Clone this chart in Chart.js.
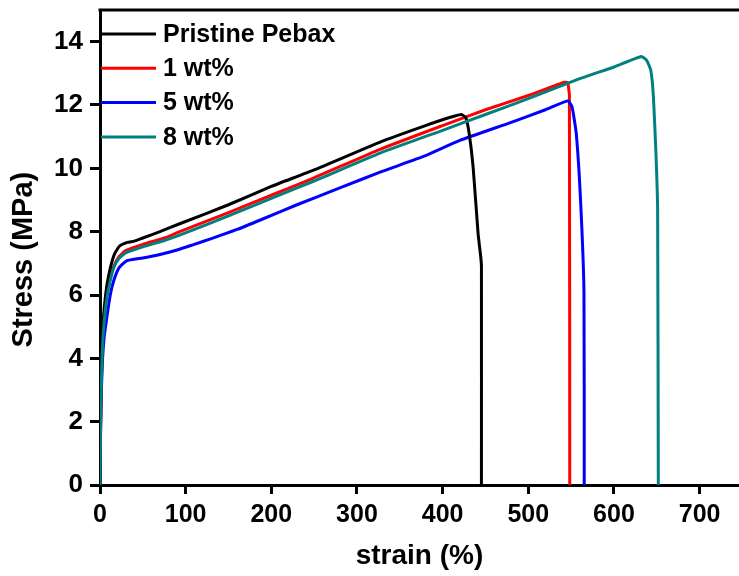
<!DOCTYPE html>
<html>
<head>
<meta charset="utf-8">
<script src="https://cdn.jsdelivr.net/npm/chart.js@4.4.0/dist/chart.umd.min.js"></script>
<style>
  body { margin: 0; background: #fff; }
  #wrap { width: 739px; height: 576px; position: relative; }
</style>
</head>
<body>
<div id="wrap"><canvas id="chart"></canvas></div>
<script>
// stress-strain curves
const seriesLabels = ['Pristine Pebax', '1 wt%', '5 wt%', '8 wt%'];
const seriesColors = ['#000000', '#ff0000', '#0000ff', '#008080'];

const strainPristine = [0, 0.5, 1, 2, 3, 5, 8, 12, 17, 23, 32, 40, 50, 70, 93, 150, 200, 250, 327, 380, 410, 422, 427, 431, 435.6, 441.4, 444.5, 445.3, 445.3];
const stressPristine = [0, 1.5, 2.7, 4.0, 4.8, 5.6, 6.3, 6.85, 7.3, 7.55, 7.66, 7.7, 7.8, 8.0, 8.25, 8.85, 9.43, 9.95, 10.83, 11.35, 11.62, 11.7, 11.6, 11.1, 10.04, 7.94, 7.2, 6.9, 0];

const strain1wt = [0, 0.5, 1, 2, 3, 5, 8, 12, 16, 22, 30, 50, 75, 93, 150, 200, 250, 327, 400, 450, 500, 542, 546, 548, 548.4];
const stress1wt = [0, 1.4, 2.5, 3.7, 4.5, 5.3, 6.0, 6.55, 6.9, 7.2, 7.4, 7.6, 7.8, 8.0, 8.6, 9.15, 9.7, 10.6, 11.35, 11.85, 12.3, 12.72, 12.7, 12.3, 0];

const strain5wt = [0, 0.5, 1, 2, 3, 5, 8, 12, 16, 22, 31, 50, 70, 90, 110, 130, 160, 190, 230, 280, 327, 380, 420, 480, 520, 546, 551, 556, 561, 565, 565.3];
const stress5wt = [0, 1.3, 2.3, 3.3, 4.0, 4.7, 5.3, 6.0, 6.45, 6.85, 7.08, 7.17, 7.28, 7.42, 7.6, 7.78, 8.07, 8.4, 8.85, 9.38, 9.88, 10.4, 10.88, 11.45, 11.85, 12.13, 11.95, 11.1, 9.0, 6.1, 0];

const strain8wt = [0, 0.5, 1, 2, 3, 5, 8, 12, 16, 22, 30, 50, 75, 93, 150, 200, 250, 327, 400, 450, 500, 560, 600, 632, 638, 643, 646, 649, 651, 651.8];
const stress8wt = [0, 1.4, 2.5, 3.6, 4.4, 5.2, 5.9, 6.45, 6.85, 7.15, 7.33, 7.52, 7.72, 7.89, 8.5, 9.05, 9.6, 10.48, 11.2, 11.7, 12.2, 12.83, 13.2, 13.53, 13.42, 13.1, 12.3, 10.5, 8.7, 0];

const strainSeries = [strainPristine, strain1wt, strain5wt, strain8wt];
const stressSeries = [stressPristine, stress1wt, stress5wt, stress8wt];
const drawOrder = [1, 3, 2, 0];

const font = 'Liberation Sans, Arial, sans-serif';

function toPoints(xs, ys) {
    return xs.map((x, i) => ({ x: x, y: ys[i] }));
}

// legend in the upper left corner of the plot, short line + label
const cornerLegend = {
    id: 'cornerLegend',
    afterDatasetsDraw(chart) {
        const ctx = chart.ctx;
        const area = chart.chartArea;
        ctx.save();
        ctx.font = 'bold 25px ' + font;
        ctx.textBaseline = 'middle';
        chart.data.datasets.forEach((ds, i) => {
            const y = area.top + 24 + i * 34.3;
            ctx.strokeStyle = ds.borderColor;
            ctx.lineWidth = 3;
            ctx.beginPath();
            ctx.moveTo(area.left + 1, y);
            ctx.lineTo(area.left + 56, y);
            ctx.stroke();
            ctx.fillStyle = '#000';
            ctx.fillText(ds.label, area.left + 63, y + 1);
        });
        ctx.restore();
    }
};

// top frame line
const topFrame = {
    id: 'topFrame',
    afterDraw(chart) {
        const ctx = chart.ctx;
        const area = chart.chartArea;
        ctx.save();
        ctx.strokeStyle = '#000';
        ctx.lineWidth = 3;
        ctx.beginPath();
        ctx.moveTo(area.left - 1.5, area.top);
        ctx.lineTo(area.right, area.top);
        ctx.stroke();
        ctx.restore();
    }
};

new Chart(document.getElementById('chart'), {
    type: 'line',
    data: {
        datasets: seriesLabels.map((label, i) => ({
            label: label,
            data: toPoints(strainSeries[i], stressSeries[i]),
            borderColor: seriesColors[i],
            backgroundColor: seriesColors[i],
            borderWidth: 3,
            pointRadius: 0,
            tension: 0.15,
            fill: false,
            order: drawOrder[i],
        })),
    },
    options: {
        responsive: true,
        maintainAspectRatio: false,
        animation: false,
        layout: { padding: { top: 10, right: 0, left: 0, bottom: 0 } },
        plugins: {
            legend: { display: false },
            tooltip: { enabled: false },
        },
        scales: {
            x: {
                type: 'linear',
                min: 0,
                max: 746,
                ticks: {
                    stepSize: 100,
                    includeBounds: false,
                    color: '#000',
                    padding: 6,
                    maxRotation: 0,
                    font: { family: font, size: 25, weight: 'bold' },
                },
                grid: {
                    drawOnChartArea: false,
                    drawTicks: true,
                    tickLength: 9,
                    color: '#000',
                    lineWidth: 3,
                },
                border: { display: true, color: '#000', width: 3 },
                title: {
                    display: true,
                    text: 'strain (%)',
                    color: '#000',
                    font: { family: font, size: 28, weight: 'bold' },
                    padding: { top: 0, bottom: 3 },
                },
                afterFit: (s) => {
                    s.height = 91;
                    s.paddingLeft = 0;
                    s.paddingRight = 0;
                },
            },
            y: {
                type: 'linear',
                min: 0,
                max: 15,
                ticks: {
                    stepSize: 2,
                    includeBounds: false,
                    color: '#000',
                    padding: 7,
                    font: { family: font, size: 26, weight: 'bold' },
                },
                grid: {
                    drawOnChartArea: false,
                    drawTicks: true,
                    tickLength: 10,
                    color: '#000',
                    lineWidth: 3,
                },
                border: { display: true, color: '#000', width: 3 },
                title: {
                    display: true,
                    text: 'Stress (MPa)   ',
                    color: '#000',
                    font: { family: font, size: 29, weight: 'bold' },
                    padding: { top: 7, bottom: 0 },
                },
                afterFit: (s) => {
                    s.width = 100;
                    s.paddingTop = 0;
                    s.paddingBottom = 0;
                },
            },
        },
    },
    plugins: [cornerLegend, topFrame],
});
</script>
</body>
</html>
